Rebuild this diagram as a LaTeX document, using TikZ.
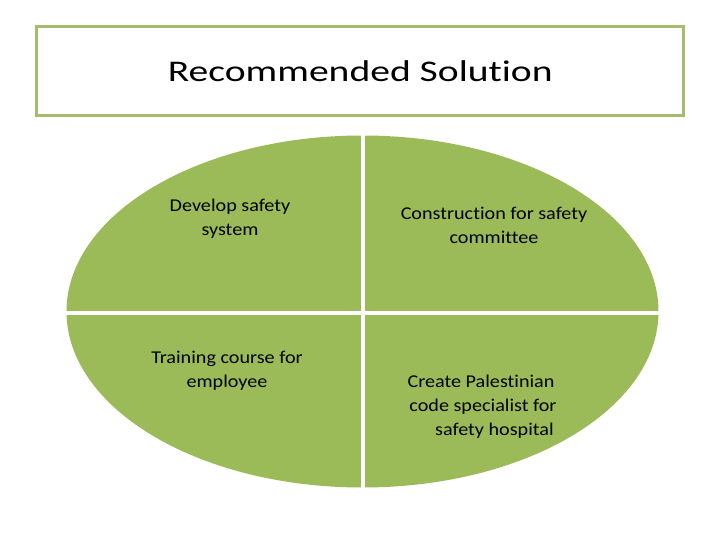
\documentclass[tikz,border=0pt]{standalone}
\usepackage{fontspec}
\setmainfont{Carlito}[Ligatures=NoCommon]
\newfontfamily\headfont{Carlito}[Ligatures=NoCommon, FakeStretch=1.32]
\newfontfamily\quadfont{Carlito}[Ligatures=NoCommon, FakeStretch=1.12]
\usetikzlibrary{positioning}
\definecolor{leafgreen}{HTML}{9BBB59}
\definecolor{framegreen}{HTML}{A4BC6E}

\begin{document}
\begin{tikzpicture}[x=1pt, y=-1pt]
    \tikzstyle{quad} = [
        align=center,
        text=black,
        font=\quadfont\fontsize{18}{24}\selectfont
    ]

    \useasboundingbox (0,0) rectangle (720,540);

    % title frame
    \node[draw=framegreen, line width=3pt, minimum width=647pt, minimum height=89pt,
          font=\headfont\fontsize{30}{36}\selectfont] (title) at (360.3,71) {Recommended Solution};

    % the oval, cut in four
    \fill[leafgreen] (362.5,311.5) ellipse [x radius=296pt, y radius=176pt];
    \coordinate (top) at (363,130);
    \coordinate (bottom) at (363,495);
    \coordinate (left) at (55,313);
    \coordinate (right) at (670,313);
    \draw[white, line width=4pt] (top) -- (bottom);
    \draw[white, line width=4pt] (left) -- (right);

    \node[quad] (develop) at (230,219) {Develop safety\\system};
    \node[quad] (construct) at (494,225) {Construction for safety\\committee};
    \node[quad] (training) at (227,371) {Training course for\\employee};
    \node[quad] (create) at (481,407) {Create Palestinian\\\hspace{4pt}code specialist for\\\hspace{27pt}safety hospital};
\end{tikzpicture}
\end{document}
